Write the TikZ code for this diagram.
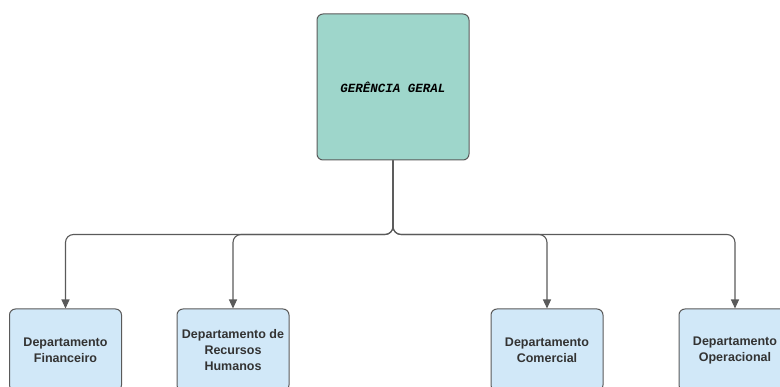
\documentclass[tikz,border=0pt]{standalone}
\usepackage{fontspec}
\setmainfont{Liberation Sans}
\setmonofont{Liberation Mono}
\usetikzlibrary{arrows.meta}
\definecolor{tealbox}{RGB}{158,214,203}
\definecolor{bluebox}{RGB}{209,232,248}
\definecolor{edgegray}{RGB}{90,90,90}
\definecolor{textgray}{RGB}{51,51,51}
\begin{document}
\begin{tikzpicture}[x=1pt, y=-1pt,
    gerencia/.style={draw=edgegray, fill=tealbox, rounded corners=6pt, line width=1pt,
        minimum width=152pt, minimum height=146pt, font=\ttfamily\bfseries\itshape\fontsize{12.5}{14}\selectfont},
    dept/.style={draw=edgegray, fill=bluebox, rounded corners=6pt, line width=1pt,
        minimum width=112pt, minimum height=82pt, align=center, text=textgray,
        font=\bfseries\fontsize{12.5}{16}\selectfont},
    link/.style={draw=edgegray, line width=1.1pt, rounded corners=8pt,
        -{Triangle[width=8pt,length=9pt]}}]

    % canvas
    \clip (0,0) rectangle (780,387);

    % top of the chart
    \node[gerencia] (geral) at (393,87) {GERÊNCIA GERAL};

    % departments
    \node[dept] (fin) at (65.5,350) {Departamento\\Financeiro};
    \node[dept] (rh) at (233,350) {Departamento de\\Recursos\\Humanos};
    \node[dept] (com) at (547,350) {Departamento\\Comercial};
    \node[dept] (op) at (735,350) {Departamento\\Operacional};

    % connectors
    \foreach \dep in {fin, rh, com, op}
        \draw[link] (geral.south) -- ++(0,74) -| (\dep.north);

\end{tikzpicture}
\end{document}
